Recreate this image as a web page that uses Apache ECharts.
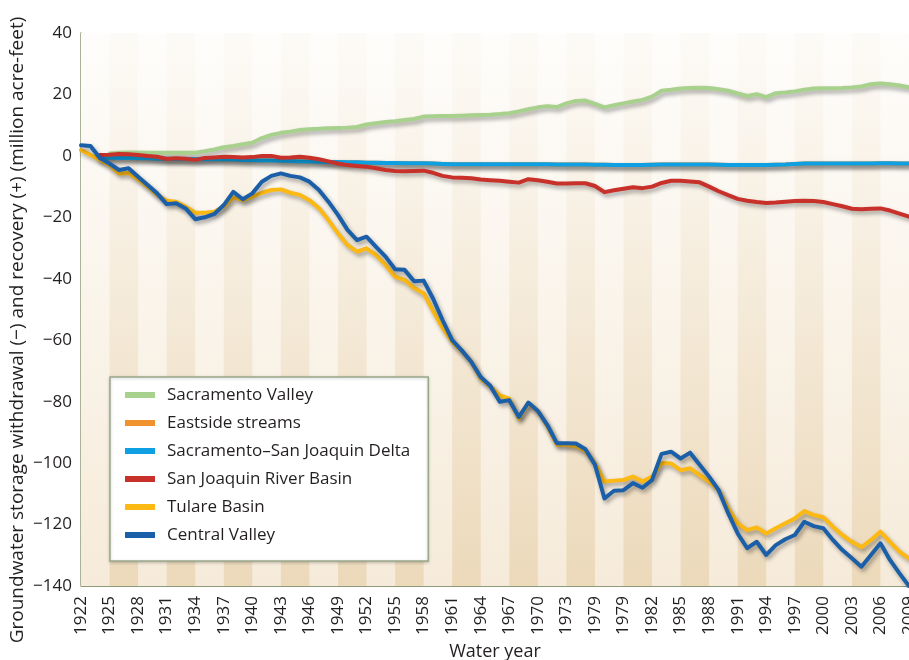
<!DOCTYPE html>
<html lang="en">
<head>
<meta charset="UTF-8">
<title>Groundwater storage withdrawal and recovery</title>
<script src="https://cdn.jsdelivr.net/npm/echarts@6/dist/echarts.min.js"></script>
<style>
  body { margin: 0; background: #fff; }
  #chart { width: 909px; height: 660px; }
</style>
</head>
<body>
<div id="chart"></div>
<script>
// water years on the x axis
var years = ['1922','1923','1924','1925','1926','1927','1928','1929','1930','1931',
  '1932','1933','1934','1935','1936','1937','1938','1939','1940','1941',
  '1942','1943','1944','1945','1946','1947','1948','1949','1950','1951',
  '1952','1953','1954','1955','1956','1957','1958','1959','1960','1961',
  '1962','1963','1964','1965','1966','1967','1968','1969','1970','1971',
  '1972','1973','1974','1975','1976','1977','1978','1979','1980','1981',
  '1982','1983','1984','1985','1986','1987','1988','1989','1990','1991',
  '1992','1993','1994','1995','1996','1997','1998','1999','2000','2001',
  '2002','2003','2004','2005','2006','2007','2008','2009'];

// tick labels as printed (every third year)
var tickLabels = ['1922','1925','1928','1931','1934','1937','1940','1943','1946','1949',
  '1952','1955','1958','1961','1964','1967','1970','1973','1979','1979',
  '1982','1985','1988','1991','1994','1997','2000','2003','2006','2009'];

// shaded bands (start year, end year)
var bandStart = ['1925','1931','1937','1943','1949','1955','1961','1967','1973','1979','1985','1991','1997','2003'];
var bandEnd   = ['1928','1934','1940','1946','1952','1958','1964','1970','1976','1982','1988','1994','2000','2006'];

var sacramento = [null,null,null,0.8,1.0,1.1,1.1,1.0,1.0,1.0,
  1.0,1.0,1.0,1.5,2.1,2.8,3.2,3.8,4.3,5.8,
  6.8,7.5,7.9,8.4,8.7,8.8,9.0,9.1,9.2,9.4,
  10.2,10.6,11.0,11.3,11.7,12.0,12.8,12.9,13.0,13.0,
  13.1,13.2,13.3,13.4,13.6,13.9,14.5,15.2,15.8,16.2,
  15.9,17.1,17.9,18.0,16.9,15.8,16.5,17.1,17.7,18.2,
  19.3,21.2,21.5,21.9,22.1,22.2,22.1,21.7,21.2,20.3,
  19.5,20.1,19.1,20.4,20.6,21.0,21.5,21.9,22.0,22.0,
  22.1,22.3,22.6,23.3,23.6,23.3,22.9,22.3];

var eastside = [null,null,-0.5,-0.6,-0.7,-0.7,-0.8,-0.8,-0.9,-0.9,
  -1.0,-1.0,-1.0,-1.1,-1.1,-1.2,-1.2,-1.3,-1.4,-1.5,
  -1.5,-1.6,-1.7,-1.8,-1.8,-1.9,-2.0,-2.0,-2.1,-2.1,
  -2.2,-2.2,-2.3,-2.3,-2.4,-2.4,-2.4,-2.5,-2.6,-2.7,
  -2.7,-2.7,-2.7,-2.7,-2.7,-2.7,-2.7,-2.7,-2.7,-2.7,
  -2.8,-2.8,-2.8,-2.8,-2.9,-2.9,-3.0,-3.0,-3.0,-3.0,
  -2.9,-2.8,-2.8,-2.8,-2.8,-2.8,-2.8,-2.9,-3.0,-3.0,
  -3.0,-3.0,-3.0,-2.9,-2.8,-2.6,-2.5,-2.5,-2.5,-2.5,
  -2.5,-2.5,-2.5,-2.5,-2.4,-2.4,-2.5,-2.5];

var delta = [null,null,-0.5,-0.6,-0.7,-0.7,-0.8,-0.8,-0.9,-0.9,
  -1.0,-1.0,-1.0,-1.1,-1.1,-1.2,-1.2,-1.3,-1.4,-1.5,
  -1.5,-1.6,-1.7,-1.8,-1.8,-1.9,-2.0,-2.0,-2.1,-2.1,
  -2.2,-2.2,-2.3,-2.3,-2.4,-2.4,-2.4,-2.5,-2.6,-2.7,
  -2.7,-2.7,-2.7,-2.7,-2.7,-2.7,-2.7,-2.7,-2.7,-2.7,
  -2.8,-2.8,-2.8,-2.8,-2.9,-2.9,-3.0,-3.0,-3.0,-3.0,
  -2.9,-2.8,-2.8,-2.8,-2.8,-2.8,-2.8,-2.9,-3.0,-3.0,
  -3.0,-3.0,-3.0,-2.9,-2.8,-2.6,-2.5,-2.5,-2.5,-2.5,
  -2.5,-2.5,-2.5,-2.5,-2.4,-2.4,-2.5,-2.5];

var sanJoaquin = [null,null,0.3,0.4,0.6,0.5,0.3,0.0,-0.3,-1.0,
  -0.8,-0.9,-1.3,-0.7,-0.5,-0.3,-0.4,-0.5,-0.4,0.0,
  0.0,-0.6,-0.5,-0.3,-0.6,-1.1,-1.8,-2.5,-3.0,-3.3,
  -3.5,-4.0,-4.6,-4.9,-5.0,-4.9,-4.8,-5.5,-6.5,-7.0,
  -7.1,-7.3,-7.7,-7.9,-8.1,-8.4,-8.7,-7.6,-7.9,-8.4,
  -9.0,-9.0,-8.9,-8.9,-9.8,-11.8,-11.2,-10.7,-10.2,-10.5,
  -10.0,-8.8,-8.1,-8.1,-8.3,-8.6,-10.0,-11.5,-12.8,-14.0,
  -14.6,-15.0,-15.3,-15.2,-14.9,-14.7,-14.6,-14.7,-15.0,-15.7,
  -16.4,-17.2,-17.4,-17.2,-17.1,-17.8,-18.8,-19.8];

var tulare = [1.9,0.3,-1.3,-3.0,-5.7,-5.6,-7.6,-10.0,-12.7,-14.6,
  -14.9,-16.5,-18.5,-18.5,-18.2,-16.5,-13.5,-14.4,-13.3,-12.0,
  -11.1,-10.9,-12.0,-12.7,-14.4,-17.0,-20.9,-25.2,-29.0,-31.2,
  -30.1,-32.3,-35.5,-39.3,-40.4,-43.0,-44.7,-50.5,-56.0,-60.5,
  -63.5,-67.0,-72.5,-75.0,-78.0,-79.0,-85.5,-80.5,-83.0,-88.0,
  -94.0,-94.0,-94.5,-96.0,-100.0,-106.0,-105.7,-105.5,-104.4,-106.0,
  -104.4,-100.0,-100.1,-102.3,-101.7,-103.9,-106.0,-108.8,-114.7,-119.6,
  -121.8,-120.9,-122.9,-121.2,-119.6,-118.0,-115.6,-116.9,-117.6,-120.7,
  -123.4,-125.6,-127.4,-125.0,-122.3,-125.6,-128.8,-131.0];

var centralValley = [3.5,3.2,-0.8,-2.5,-4.6,-4.0,-6.8,-9.5,-12.2,-15.7,
  -15.4,-17.1,-20.6,-20.0,-18.9,-16.0,-11.7,-14.1,-12.2,-8.4,
  -6.5,-5.7,-6.5,-7.0,-8.4,-11.1,-14.9,-19.2,-24.1,-27.4,
  -26.3,-29.6,-32.8,-36.9,-37.1,-40.8,-40.6,-46.5,-53.5,-60.0,
  -63.3,-67.0,-72.0,-74.8,-80.0,-79.5,-85.0,-80.3,-83.0,-87.6,
  -93.5,-93.5,-93.6,-95.5,-100.5,-111.5,-109.0,-108.8,-106.5,-108.0,
  -105.5,-97.0,-96.3,-98.5,-96.6,-100.5,-104.4,-108.8,-116.3,-122.9,
  -127.7,-125.6,-129.9,-126.7,-124.8,-123.4,-119.1,-120.5,-121.2,-125.0,
  -128.3,-131.0,-133.7,-129.9,-126.1,-131.5,-135.9,-140.0];

var seriesNames = ['Sacramento Valley', 'Eastside streams', 'Sacramento\u2013San Joaquin Delta',
  'San Joaquin River Basin', 'Tulare Basin', 'Central Valley'];
var seriesData = [sacramento, eastside, delta, sanJoaquin, tulare, centralValley];
var seriesColors = ['#a9d18e', '#f0922e', '#0ea0e2', '#c8302a', '#fdb913', '#1b5fa8'];

var yTitle = 'Groundwater storage withdrawal (\u2212) and recovery (+) (million acre-feet)';

var chart = echarts.init(document.getElementById('chart'));

function grad(top, bottom) {
  return new echarts.graphic.LinearGradient(0, 0, 0, 1, [
    { offset: 0, color: top },
    { offset: 1, color: bottom }
  ]);
}

var bands = [];
for (var i = 0; i < bandStart.length; i++) {
  bands.push([{ xAxis: bandStart[i] }, { xAxis: bandEnd[i] }]);
}

var series = [
  {
    type: 'line', data: [], silent: true, z: -2,
    markArea: {
      silent: true,
      itemStyle: { color: grad('#fefdfb', '#f6ebda') },
      data: [[{ xAxis: years[0] }, { xAxis: years[years.length - 1] }]]
    }
  },
  {
    type: 'line', data: [], silent: true, z: -1,
    markArea: {
      silent: true,
      itemStyle: { color: grad('#fdfbf7', '#ecd9ba') },
      data: bands
    }
  }
];

seriesNames.forEach(function (name, k) {
  series.push({
    name: name,
    type: 'line',
    data: seriesData[k],
    showSymbol: false,
    symbol: 'none',
    z: 3,
    itemStyle: { color: seriesColors[k] },
    lineStyle: {
      width: 4, color: seriesColors[k], cap: 'round', join: 'round',
      shadowColor: 'rgba(0,0,0,0.35)', shadowBlur: 4, shadowOffsetX: 2, shadowOffsetY: 3
    },
    emphasis: { disabled: true }
  });
});

var option = {
  animation: false,
  textStyle: { fontFamily: 'Open Sans', color: '#231f20' },
  grid: { left: 81, right: 0, top: 33, bottom: 74, outerBoundsMode: 'none', containLabel: false },
  graphic: [{
    type: 'text',
    rotation: Math.PI / 2,
    x: 18, y: 330,
    style: {
      text: yTitle,
      font: '19px "Open Sans"',
      fill: '#231f20',
      align: 'center',
      verticalAlign: 'middle'
    }
  }],
  legend: {
    data: seriesNames,
    orient: 'vertical',
    left: 110,
    top: 377,
    padding: [8, 18, 16, 15],
    itemGap: 8,
    itemWidth: 30,
    itemHeight: 6,
    icon: 'rect',
    backgroundColor: '#fff',
    borderColor: '#9aa88a',
    borderWidth: 1.5,
    shadowColor: 'rgba(0,0,0,0.2)',
    shadowBlur: 3,
    shadowOffsetY: 1,
    selectedMode: false,
    itemStyle: { shadowBlur: 0, borderWidth: 0 },
    textStyle: { fontSize: 17, color: '#231f20', lineHeight: 20, padding: [0, 0, 0, 7] }
  },
  xAxis: {
    type: 'category',
    data: years,
    boundaryGap: false,
    name: 'Water year',
    nameLocation: 'middle',
    nameGap: 53,
    nameTextStyle: { fontSize: 18, color: '#231f20' },
    axisLine: { lineStyle: { color: '#a6a68e', width: 2 } },
    axisTick: { show: false },
    axisLabel: {
      interval: 2,
      rotate: 90,
      margin: 10,
      fontSize: 17,
      color: '#231f20',
      formatter: function (v, idx) { return tickLabels[idx / 3]; }
    },
    splitLine: { show: false }
  },
  yAxis: {
    type: 'value',
    min: -140,
    max: 40,
    interval: 20,
    axisLine: { show: true, lineStyle: { color: '#8e9a78', width: 1.5 } },
    axisTick: { show: false },
    axisLabel: {
      margin: 9,
      fontSize: 17,
      color: '#231f20',
      formatter: function (v) { return v < 0 ? '\u2212' + Math.abs(v) : String(v); }
    },
    splitLine: { lineStyle: { color: '#8e9a78', width: 1 } }
  },
  series: series
};

chart.setOption(option);
</script>
</body>
</html>
